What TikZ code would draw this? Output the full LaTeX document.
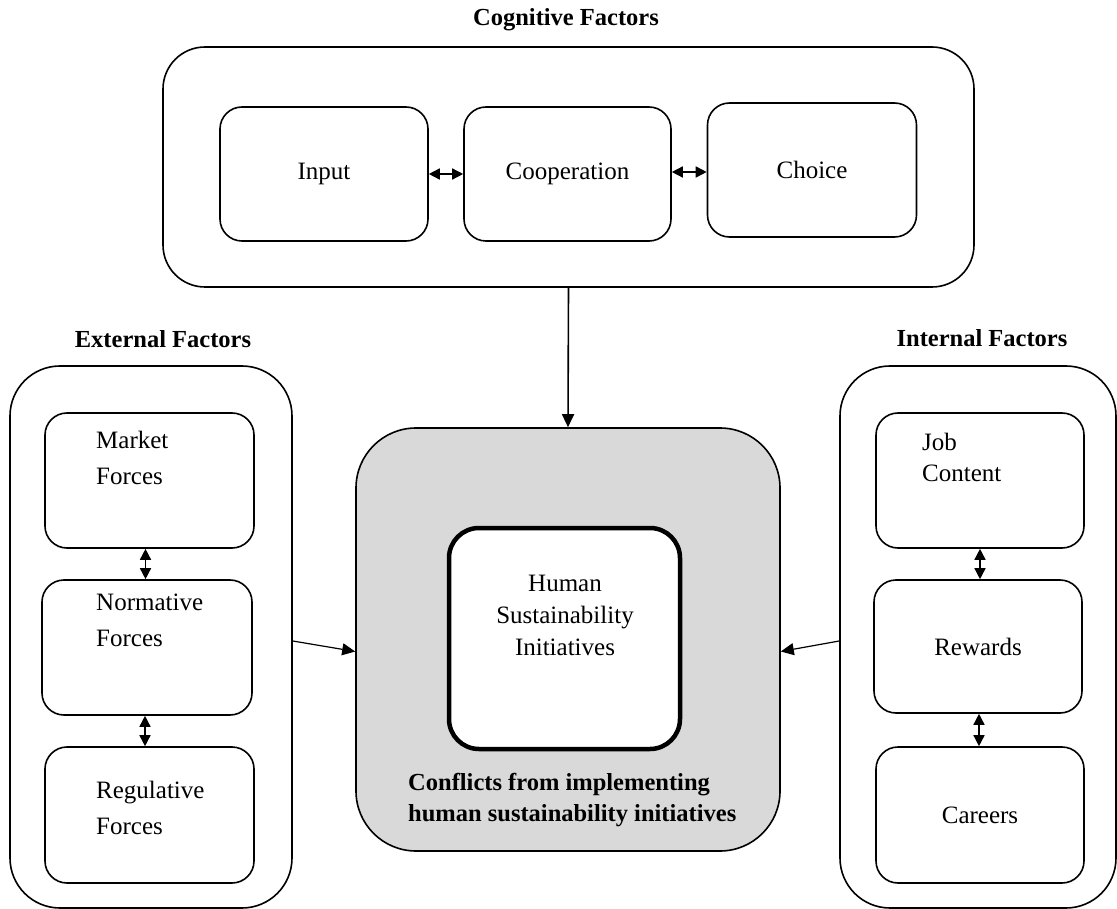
\documentclass[tikz,border=0pt]{standalone}
\usepackage{fontspec}
\setmainfont{Liberation Serif}
\usetikzlibrary{arrows.meta}
\definecolor{panelgrey}{HTML}{D9D9D9}
\begin{document}
\begin{tikzpicture}[x=1pt,y=-1pt,
  every node/.style={font=\fontsize{25}{32}\selectfont},
  group/.style={draw, line width=1.6pt, rounded corners=42pt, inner sep=0pt},
  item/.style={draw, line width=1.6pt, rounded corners=22pt, inner sep=0pt},
  core/.style={draw, line width=4.5pt, rounded corners=30pt, inner sep=0pt, fill=white},
  heading/.style={font=\fontsize{24.5}{30}\selectfont\bfseries},
  body/.style={align=left, inner sep=0pt, font=\fontsize{25}{36}\selectfont},
  link/.style={line width=1.5pt, {Triangle[length=11pt,width=11pt]}-{Triangle[length=11pt,width=11pt]}},
  feed/.style={line width=1.6pt, -{Triangle[length=13pt,width=12pt]}},
  sidefeed/.style={line width=1.2pt, -{Triangle[length=13pt,width=12pt]}}
]
\useasboundingbox (0,0) rectangle (1117,909);

% cognitive factors
\node[heading] (cogt) at (566,20) {Cognitive Factors};
\node[group, minimum width=811pt, minimum height=240pt] (cog) at (568.5,167) {};
\node[item, minimum width=208pt, minimum height=134pt] (input) at (324,174) {Input};
\node[item, minimum width=207pt, minimum height=134pt] (coop) at (567.5,174) {Cooperation};
\node[item, minimum width=209pt, minimum height=134pt] (choice) at (812,170) {Choice};
\draw[link] (input.east) -- (coop.west);
\draw[link] ([yshift=2pt]coop.east) -- ([yshift=-2pt]choice.west);

% central panel
\node[draw, line width=1.6pt, fill=panelgrey, rounded corners=60pt, minimum width=424pt, minimum height=423pt, inner sep=0pt] (conf) at (568,639.5) {};
\node[core, minimum width=231pt, minimum height=221pt] (hsi) at (564.5,638.5) {};
\node[align=center, inner sep=0pt] (hsit) at (565,615) {Human\\Sustainability\\Initiatives};
\node[anchor=west, align=left, inner sep=0pt, font=\fontsize{24.5}{30.5}\selectfont\bfseries] (conft) at (408,800) {Conflicts from implementing\\human sustainability initiatives};
\draw[feed] (cog.south) -- (conf.north);

% external factors
\node[heading] (extt) at (163,339) {External Factors};
\node[group, rounded corners=50pt, minimum width=282pt, minimum height=542pt] (ext) at (151,637) {};
\node[item, minimum width=209pt, minimum height=135pt] (market) at (149.5,480.5) {};
\node[item, minimum width=210pt, minimum height=135pt] (norm) at (147,647.5) {};
\node[item, minimum width=209pt, minimum height=136pt] (regul) at (149.5,815) {};
\node[body, anchor=west] (markett) at (96,458) {Market\\Forces};
\node[body, anchor=west] (normt) at (96,620) {Normative\\Forces};
\node[body, anchor=west] (regult) at (96,808) {Regulative\\Forces};
\draw[link] ([xshift=-4pt]market.south) -- ([xshift=-4pt]market.south |- norm.north);
\draw[link] ([xshift=-2pt]norm.south) -- ([xshift=-2pt]norm.south |- regul.north);
\draw[sidefeed] ([yshift=-4pt]ext.east) -- ([yshift=-12pt]conf.west);

% internal factors
\node[heading] (intt) at (982,338) {Internal Factors};
\node[group, rounded corners=50pt, minimum width=276pt, minimum height=542pt] (int) at (978,637) {};
\node[item, minimum width=208pt, minimum height=135pt] (job) at (980,480.5) {};
\node[item, minimum width=208pt, minimum height=133pt] (rew) at (978,646.5) {Rewards};
\node[item, minimum width=208pt, minimum height=136pt] (car) at (980,815) {Careers};
\node[body, anchor=west, font=\fontsize{25}{31}\selectfont] (jobt) at (922,457) {Job\\Content};
\draw[link] (job.south) -- (job.south |- rew.north);
\draw[link] ([xshift=1pt]rew.south) -- ([xshift=1pt]rew.south |- car.north);
\draw[sidefeed] ([yshift=-4pt]int.west) -- ([yshift=-12pt]conf.east);
\end{tikzpicture}
\end{document}
